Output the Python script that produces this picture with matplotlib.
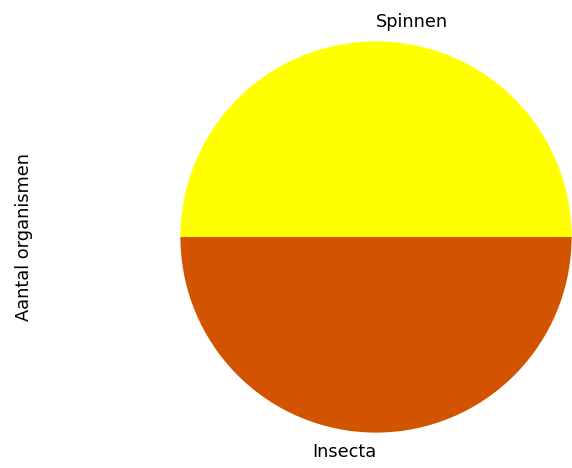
import matplotlib
matplotlib.use('Agg')
import matplotlib.pyplot as plt

# data
categorieen = ['Spinnen', 'Insecta']
aantallen = [1, 1]
kleuren = ['#FFFF00', '#D35400']

fig = plt.figure(figsize=(5.72, 4.68), dpi=100)
ax = fig.add_axes([180 / 572, 35 / 468, 392 / 572, 392 / 468])

wedges, teksten = ax.pie(aantallen, labels=categorieen, colors=kleuren,
                         textprops={'fontsize': 12.8})
# labels zoals in de originele figuur uitlijnen
teksten[0].set_ha('left')
teksten[1].set_ha('right')
ax.set_xlim(-1.002, 1.002)
ax.set_ylim(-1.002, 1.002)
ax.set_aspect('equal')

ax.set_ylabel('Aantal organismen', fontsize=12.8)
ax.yaxis.set_label_coords(-0.375, 0.5)

plt.savefig('out.png', dpi=100)
